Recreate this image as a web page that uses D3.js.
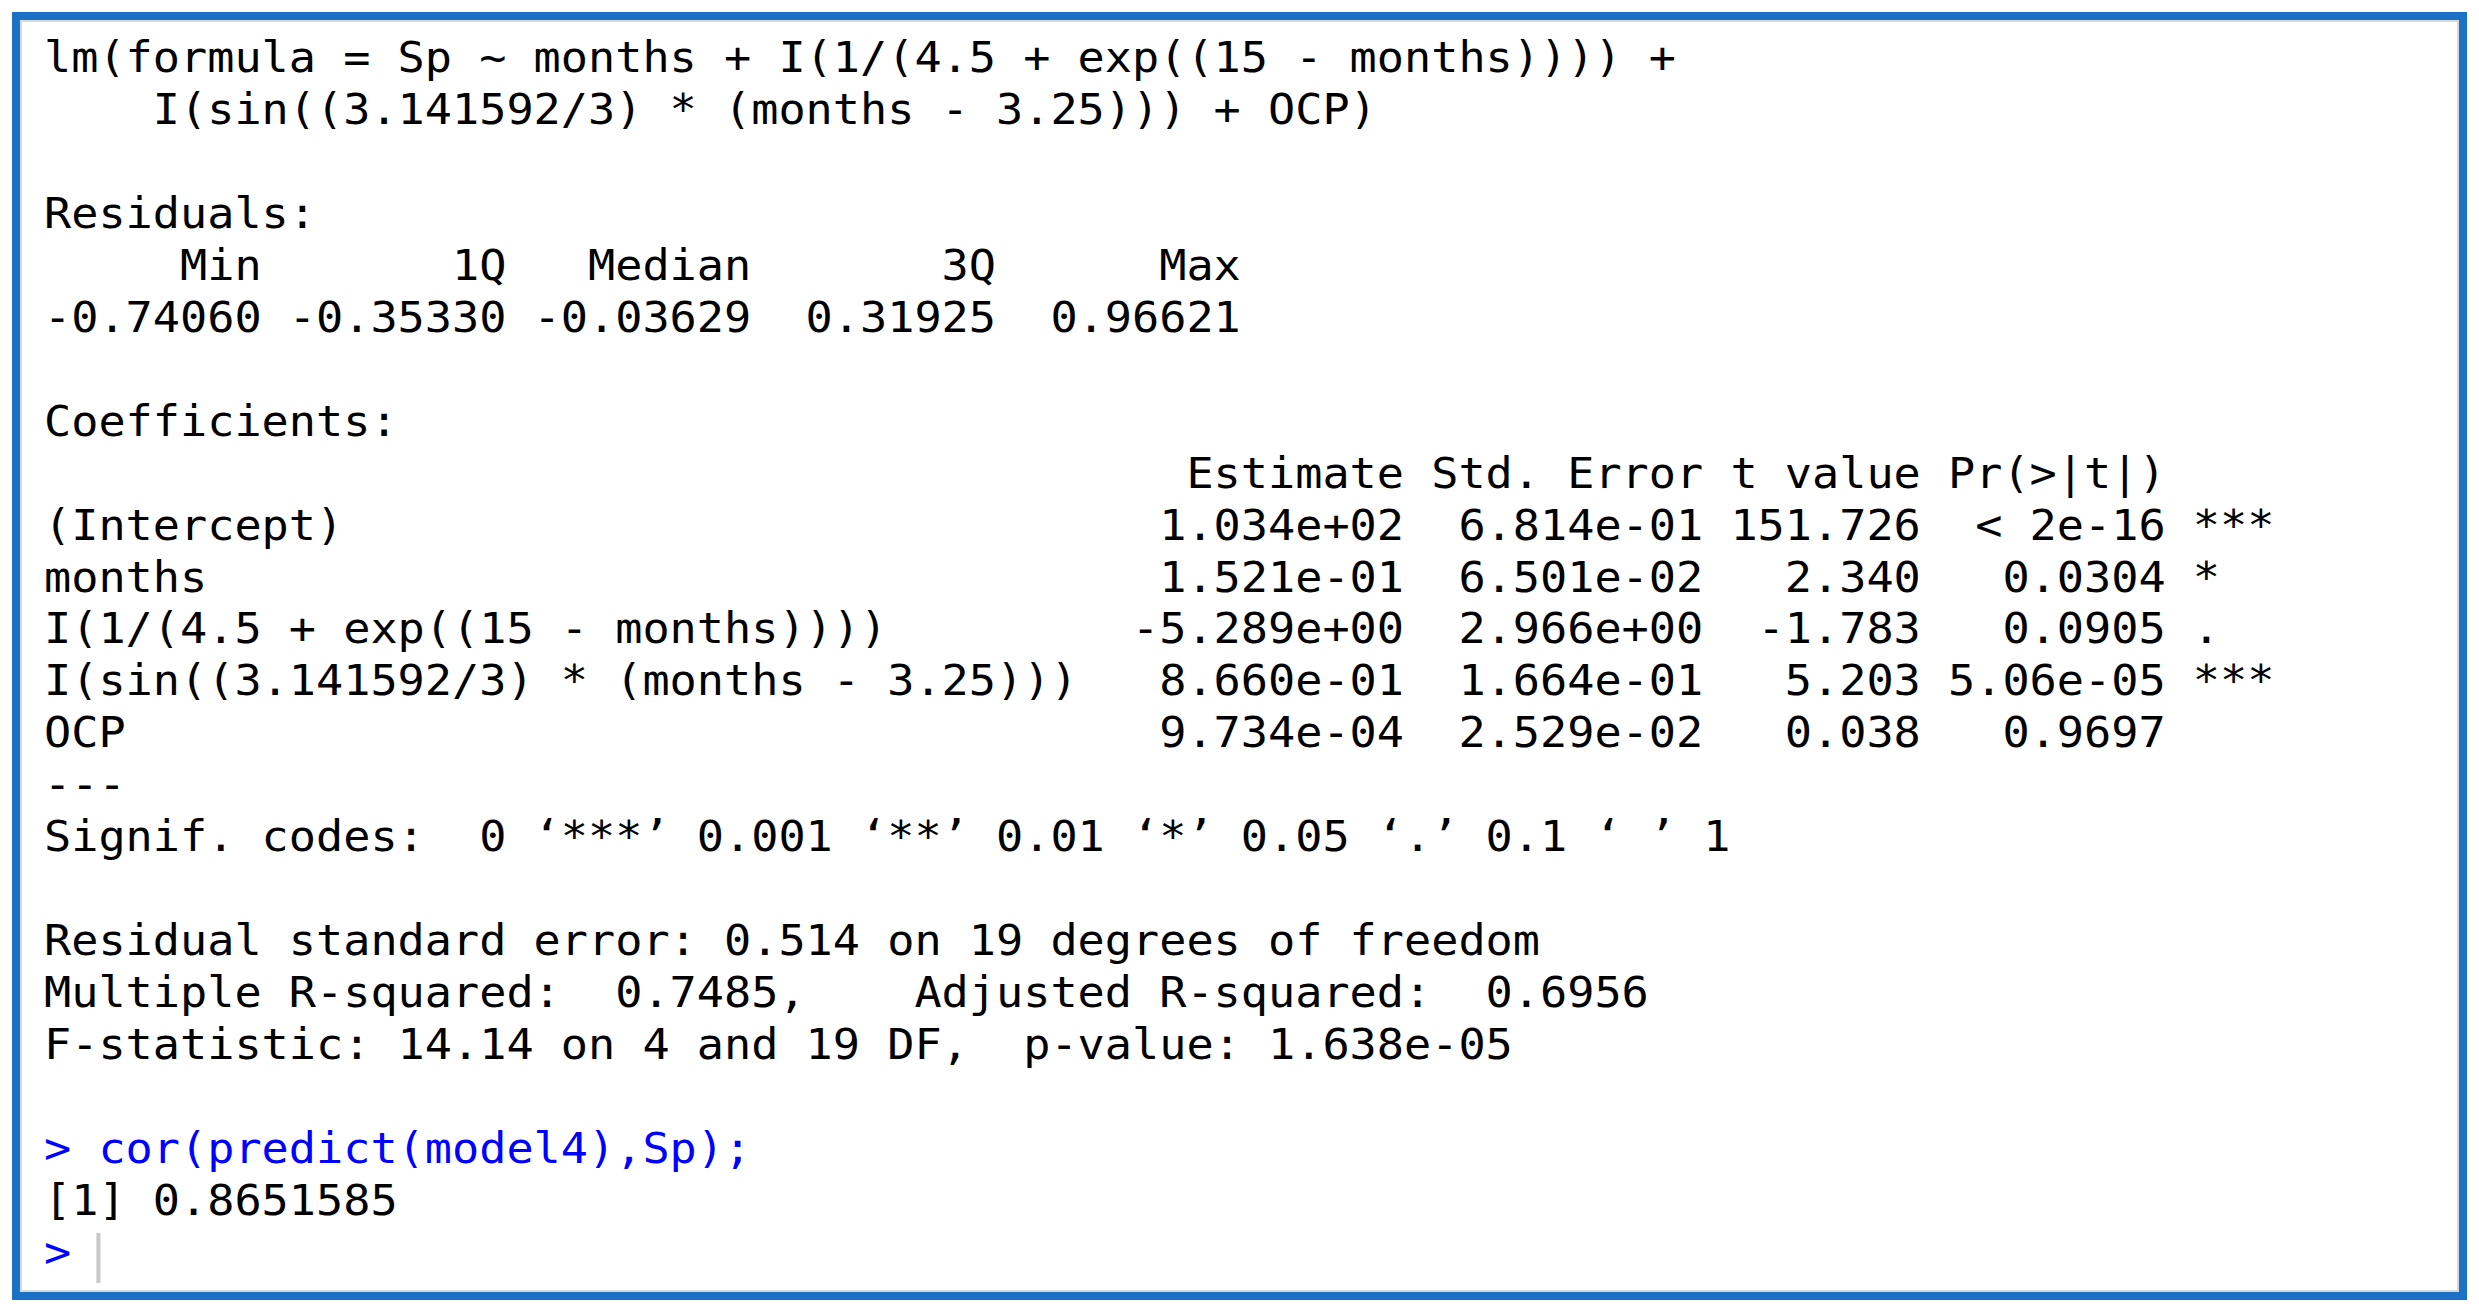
<!DOCTYPE html>
<html><head><meta charset="utf-8">
<script src="https://cdn.jsdelivr.net/npm/d3@7"></script>
<style>body{margin:0;background:#fff}text{white-space:pre}</style>
</head><body>
<script>
const width = 2479, height = 1314;

// console output, row by row
const pad = (s, n) => String(s).padStart(n);
const coefNames = ["(Intercept)", "months", "I(1/(4.5 + exp((15 - months))))",
                   "I(sin((3.141592/3) * (months - 3.25)))", "OCP"];
const estimates = ["1.034e+02", "1.521e-01", "-5.289e+00", "8.660e-01", "9.734e-04"];
const stdErrors = ["6.814e-01", "6.501e-02", "2.966e+00", "1.664e-01", "2.529e-02"];
const tValues = ["151.726", "2.340", "-1.783", "5.203", "0.038"];
const pValues = ["< 2e-16", "0.0304", "0.0905", "5.06e-05", "0.9697"];
const stars = ["***", "*", ".", "***", ""];
const residLabels = ["Min", "1Q", "Median", "3Q", "Max"];
const residValues = ["-0.74060", "-0.35330", "-0.03629", "0.31925", "0.96621"];

const lines = [
  {t: "lm(formula = Sp ~ months + I(1/(4.5 + exp((15 - months)))) + "},
  {t: "    I(sin((3.141592/3) * (months - 3.25))) + OCP)"},
  {t: ""},
  {t: "Residuals:"},
  {t: residLabels.map(d => pad(d, 8)).join(" ")},
  {t: residValues.map(d => pad(d, 8)).join(" ")},
  {t: ""},
  {t: "Coefficients:"},
  {t: "".padEnd(38) + pad("Estimate", 12) + pad("Std. Error", 11) + pad("t value", 8) + pad("Pr(>|t|)", 9)},
  ...coefNames.map((n, i) => ({t: n.padEnd(38) + pad(estimates[i], 12) + pad(stdErrors[i], 11) +
        pad(tValues[i], 8) + pad(pValues[i], 9) + " " + stars[i]})),
  {t: "---"},
  {t: "Signif. codes:  0 \u2018***\u2019 0.001 \u2018**\u2019 0.01 \u2018*\u2019 0.05 \u2018.\u2019 0.1 \u2018 \u2019 1"},
  {t: ""},
  {t: "Residual standard error: 0.514 on 19 degrees of freedom"},
  {t: "Multiple R-squared:  0.7485,\u00a0\u00a0\u00a0\u00a0Adjusted R-squared:  0.6956 "},
  {t: "F-statistic: 14.14 on 4 and 19 DF,  p-value: 1.638e-05"},
  {t: ""},
  {t: "> cor(predict(model4),Sp);", cmd: true},
  {t: "[1] 0.8651585"},
  {t: "> ", cmd: true}
];

const svg = d3.select("body").append("svg")
  .attr("width", width).attr("height", height);

svg.append("rect").attr("x", 16).attr("y", 16).attr("width", 2447).attr("height", 1280)
  .attr("fill", "#fff").attr("stroke", "#1b72c4").attr("stroke-width", 8);
svg.append("rect").attr("x", 21).attr("y", 21).attr("width", 2437).attr("height", 1270)
  .attr("fill", "none").attr("stroke", "#d8d8d8").attr("stroke-width", 2);

const y = d3.scaleLinear().domain([0, 1]).range([72, 72 + 51.95]);
const charW = 27.2;

svg.selectAll("text.line").data(lines.filter(d => d.t.length)).enter()
  .append("text").attr("class", "line")
  .attr("x", 44)
  .attr("y", d => y(lines.indexOf(d)))
  .attr("font-family", "'DejaVu Sans Mono', 'Liberation Mono', monospace")
  .attr("font-size", 42)
  .attr("fill", d => d.cmd ? "#0000ff" : "#000")
  .attr("textLength", d => d.t.length * charW)
  .attr("lengthAdjust", "spacingAndGlyphs")
  .text(d => d.t.replace(/ /g, "\u00a0"));

// cursor
svg.append("rect").attr("x", 44 + 2 * charW - 2).attr("y", y(lines.length - 1) - 34)
  .attr("width", 4).attr("height", 50).attr("fill", "#c8c8c8");
</script>
</body></html>
